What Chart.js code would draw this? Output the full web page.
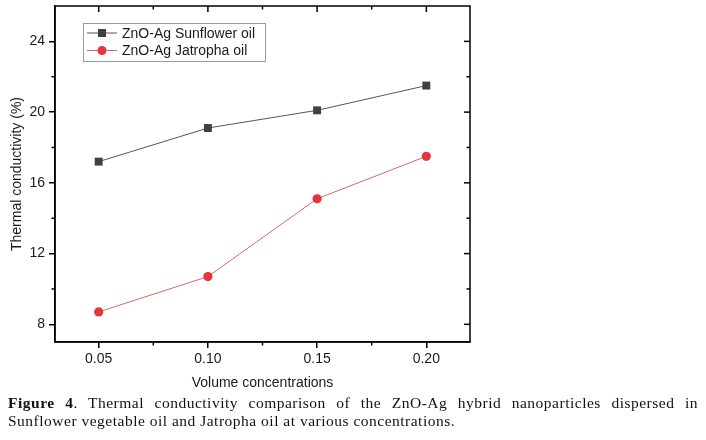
<!DOCTYPE html>
<html>
<head>
<meta charset="utf-8">
<script src="https://cdn.jsdelivr.net/npm/chart.js@4/dist/chart.umd.min.js"></script>
<style>
html, body { margin: 0; padding: 0; background: #fff; }
#wrap { position: relative; width: 706px; height: 440px; overflow: hidden; }
#chart { position: absolute; left: 0; top: 0; }
#caption {
    position: absolute; left: 8px; top: 394px; width: 690px;
    font-family: "Liberation Serif", "Times New Roman", serif;
    font-size: 15.5px; line-height: 18px; letter-spacing: 0.5px; color: #111;
}
.l1 { text-align: justify; text-align-last: justify; }
</style>
</head>
<body>
<div id="wrap">
<canvas id="chart" width="706" height="440"></canvas>
<div id="caption">
<div class="l1"><b>Figure 4</b>. Thermal conductivity comparison of the ZnO-Ag hybrid nanoparticles dispersed in</div>
<div>Sunflower vegetable oil and Jatropha oil at various concentrations.</div>
</div>
</div>
<script>
const concentrations = [0.05, 0.10, 0.15, 0.20];
const sunflowerOil = [17.2, 19.1, 20.1, 21.5];
const jatrophaOil = [8.7, 10.7, 15.1, 17.5];
const seriesNames = ['ZnO-Ag Sunflower oil', 'ZnO-Ag Jatropha oil'];
const xTicks = [0.05, 0.10, 0.15, 0.20];
const xMinor = [0.075, 0.125, 0.175];
const yTicks = [8, 12, 16, 20, 24];
const yMinor = [10, 14, 18, 22];

const font = 'Liberation Sans, Arial, sans-serif';
const ink = '#1a1a1a';

// box around the plot, mirrored ticks on top/right, minor ticks
const frame = {
    id: 'frame',
    afterDraw(chart) {
        const {ctx, chartArea, scales} = chart;
        const {left, right, top, bottom} = chartArea;
        const line = (x1, y1, x2, y2) => {
            ctx.beginPath(); ctx.moveTo(x1, y1); ctx.lineTo(x2, y2); ctx.stroke();
        };
        ctx.save();
        ctx.strokeStyle = '#000';
        ctx.lineWidth = 1.5;
        ctx.strokeRect(left, top, right - left, bottom - top);
        xTicks.forEach(v => {
            const px = scales.x.getPixelForValue(v);
            line(px, top, px, top + 6);
        });
        xMinor.forEach(v => {
            const px = scales.x.getPixelForValue(v);
            line(px, bottom, px, bottom + 3.5);
            line(px, top, px, top + 3.5);
        });
        yTicks.forEach(v => {
            const py = scales.y.getPixelForValue(v);
            line(right, py, right - 6, py);
        });
        yMinor.forEach(v => {
            const py = scales.y.getPixelForValue(v);
            line(left, py, left - 3.5, py);
            line(right, py, right - 3.5, py);
        });
        ctx.restore();
    }
};

// legend box in the upper left of the plot
const boxLegend = {
    id: 'boxLegend',
    afterDraw(chart) {
        const ctx = chart.ctx;
        ctx.save();
        ctx.strokeStyle = '#9a9a9a';
        ctx.lineWidth = 1;
        ctx.strokeRect(83.5, 23.5, 182, 38);
        ctx.font = '14px ' + font;
        ctx.textBaseline = 'middle';
        ctx.fillStyle = ink;
        chart.data.datasets.forEach((ds, i) => {
            const cy = 33 + i * 17.5;
            ctx.strokeStyle = ds.borderColor;
            ctx.beginPath(); ctx.moveTo(87, cy); ctx.lineTo(117, cy); ctx.stroke();
            ctx.fillStyle = ds.pointBackgroundColor;
            if (ds.pointStyle === 'rect') {
                ctx.fillRect(98, cy - 4, 8, 8);
            } else {
                ctx.beginPath(); ctx.arc(102, cy, 4.5, 0, Math.PI * 2); ctx.fill();
            }
            ctx.fillStyle = ink;
            ctx.fillText(ds.label, 122, cy + 1);
        });
        ctx.restore();
    }
};

const toPoints = ys => concentrations.map((c, i) => ({x: c, y: ys[i]}));

new Chart('chart', {
    type: 'line',
    data: {
        datasets: [{
            label: seriesNames[0],
            data: toPoints(sunflowerOil),
            borderColor: '#555555',
            borderWidth: 1,
            pointStyle: 'rect',
            pointRadius: 5.6,
            pointBackgroundColor: '#404040',
            pointBorderColor: '#404040',
            pointBorderWidth: 0,
            tension: 0
        }, {
            label: seriesNames[1],
            data: toPoints(jatrophaOil),
            borderColor: '#d46a6a',
            borderWidth: 1,
            pointStyle: 'circle',
            pointRadius: 4.6,
            pointBackgroundColor: '#e4353a',
            pointBorderColor: '#e4353a',
            pointBorderWidth: 0,
            tension: 0
        }]
    },
    options: {
        responsive: false,
        animation: false,
        layout: {padding: {left: 0, right: 236, top: 6, bottom: 0}},
        plugins: {
            legend: {display: false},
            tooltip: {enabled: false}
        },
        scales: {
            x: {
                type: 'linear',
                min: 0.03,
                max: 0.22,
                afterBuildTicks: s => { s.ticks = xTicks.map(v => ({value: v})); },
                afterFit: s => { s.height = 98; s.paddingLeft = 0; s.paddingRight = 0; },
                ticks: {
                    callback: v => v.toFixed(2),
                    font: {family: font, size: 14},
                    color: ink,
                    padding: 3
                },
                grid: {drawOnChartArea: false, tickLength: 6, color: '#000', lineWidth: 1.5},
                border: {color: '#000', width: 1.5},
                title: {
                    display: true,
                    text: 'Volume concentrations',
                    font: {family: font, size: 14},
                    color: ink,
                    padding: {top: 0, bottom: 48}
                }
            },
            y: {
                min: 7,
                max: 26,
                afterBuildTicks: s => { s.ticks = yTicks.map(v => ({value: v})); },
                afterFit: s => { s.width = 55; s.paddingTop = 0; s.paddingBottom = 0; },
                ticks: {
                    font: {family: font, size: 14},
                    color: ink,
                    padding: 4
                },
                grid: {drawOnChartArea: false, tickLength: 6, color: '#000', lineWidth: 1.5},
                border: {color: '#000', width: 1.5},
                title: {
                    display: true,
                    text: 'Thermal conductivity (%)',
                    font: {family: font, size: 14},
                    color: ink,
                    padding: {top: 9, bottom: 0}
                }
            }
        }
    },
    plugins: [frame, boxLegend]
});
</script>
</body>
</html>
